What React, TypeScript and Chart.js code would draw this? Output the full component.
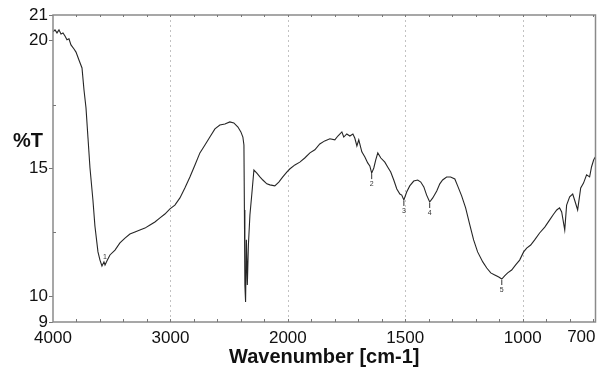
import React, { useEffect, useRef } from 'react';
import { Chart, registerables } from 'chart.js';

Chart.register(...registerables);

// Spectrum (wavenumber in cm-1, transmittance in %T)
const wavenumbers = [
  4000, 3983, 3966, 3949, 3932, 3915, 3898, 3881, 3864, 3847, 3821, 3804, 3779, 3753, 3736, 3719,
  3702, 3685, 3660, 3643, 3617, 3600, 3583, 3566, 3557, 3540, 3515, 3472, 3430, 3387, 3345, 3302,
  3260, 3217, 3174, 3132, 3089, 3047, 3004, 2962, 2919, 2877, 2834, 2791, 2749, 2706, 2664, 2621,
  2579, 2536, 2494, 2460, 2425, 2400, 2383, 2374, 2370, 2366, 2360, 2353, 2345, 2336, 2323, 2306,
  2289, 2264, 2238, 2213, 2179, 2153, 2111, 2077, 2043, 2009, 1992, 1970, 1949, 1928, 1906, 1885,
  1864, 1843, 1821, 1800, 1787, 1770, 1762, 1749, 1736, 1723, 1715, 1706, 1698, 1685, 1672, 1660,
  1651, 1643, 1634, 1626, 1617, 1604, 1587, 1575, 1562, 1549, 1536, 1523, 1515, 1506, 1494, 1481,
  1464, 1447, 1434, 1421, 1409, 1396, 1383, 1366, 1353, 1341, 1324, 1307, 1289, 1277, 1260, 1243,
  1226, 1209, 1192, 1170, 1153, 1136, 1119, 1102, 1089, 1077, 1064, 1047, 1030, 1013, 996, 983,
  966, 949, 928, 906, 885, 868, 855, 843, 834, 821, 813, 800, 787, 779, 766, 753,
  741, 728, 715, 707, 698, 691,
];
const transmittance = [
  20.34, 20.42, 20.30, 20.42, 20.26, 20.30, 20.18, 20.03, 20.07, 19.83, 19.67, 19.55, 19.24, 18.93, 18.07, 17.37,
  16.19, 15.02, 13.77, 12.75, 11.74, 11.42, 11.19, 11.35, 11.23, 11.39, 11.62, 11.81, 12.09, 12.28, 12.44, 12.52,
  12.60, 12.67, 12.79, 12.91, 13.07, 13.22, 13.42, 13.57, 13.85, 14.24, 14.67, 15.14, 15.61, 15.92, 16.23, 16.55,
  16.70, 16.74, 16.82, 16.78, 16.62, 16.43, 16.23, 15.92, 13.38, 10.45, 9.78, 12.21, 10.45, 12.01, 13.18, 14.04,
  14.94, 14.82, 14.67, 14.55, 14.40, 14.36, 14.32, 14.47, 14.67, 14.86, 14.98, 15.14, 15.25, 15.41, 15.61, 15.73,
  15.96, 16.08, 16.16, 16.12, 16.27, 16.43, 16.23, 16.35, 16.27, 16.35, 16.19, 15.88, 16.12, 15.65, 15.45, 15.22,
  15.10, 14.82, 15.02, 15.33, 15.61, 15.41, 15.25, 15.06, 14.86, 14.55, 14.20, 14.00, 13.96, 13.77, 14.08, 14.32,
  14.51, 14.55, 14.47, 14.28, 13.96, 13.69, 13.85, 14.12, 14.40, 14.55, 14.67, 14.67, 14.59, 14.32, 13.93, 13.46,
  12.83, 12.21, 11.74, 11.35, 11.11, 10.92, 10.84, 10.76, 10.68, 10.80, 10.92, 11.03, 11.23, 11.42, 11.74, 11.89,
  12.01, 12.21, 12.48, 12.71, 12.99, 13.22, 13.38, 13.46, 13.30, 12.60, 13.57, 13.89, 14.00, 13.77, 13.38, 14.24,
  14.43, 14.75, 14.67, 15.06, 15.33, 15.45,
];

const xTickWavenumbers = [4000, 3000, 2000, 1500, 1000, 700];
const xGridWavenumbers = [3000, 2000, 1500, 1000];
const yTickValues = [9, 10, 15, 20, 21];
const yMinorValues = [12.5, 17.5];
const peakWavenumbers = [3557, 1643, 1506, 1396, 1089];
const peakLabels = ['1', '2', '3', '4', '5'];
const wavenumberMax = 4000;
const wavenumberMin = 690;
const yMin = 9;
const yMax = 21;

// Instrument x-axis: 2x expanded scale below 2000 cm-1
const toU = (w: number) => (w >= 2000 ? 4000 - w : 2000 + (2000 - w) * 2);
const fromU = (u: number) => (u <= 2000 ? 4000 - u : 2000 - (u - 2000) / 2);

const FONT = "'Liberation Sans', Arial, sans-serif";

const decorPlugin = {
  id: 'decor',
  beforeDatasetsDraw(chart: any) {
    const { ctx, chartArea } = chart;
    const xs = chart.scales.x;
    ctx.save();
    ctx.strokeStyle = '#c2c2c2';
    ctx.lineWidth = 1;
    ctx.setLineDash([2, 3]);
    xGridWavenumbers.forEach((w) => {
      const px = Math.round(xs.getPixelForValue(toU(w))) + 0.5;
      ctx.beginPath();
      ctx.moveTo(px, chartArea.top);
      ctx.lineTo(px, chartArea.bottom);
      ctx.stroke();
    });
    ctx.restore();
  },
  afterDatasetsDraw(chart: any) {
    const { ctx, chartArea } = chart;
    const xs = chart.scales.x;
    const ys = chart.scales.y;
    ctx.save();
    // frame
    ctx.strokeStyle = '#8a8a8a';
    ctx.lineWidth = 1.5;
    ctx.strokeRect(chartArea.left, chartArea.top, chartArea.right - chartArea.left, chartArea.bottom - chartArea.top);
    // minor ticks on bottom / top edges
    ctx.strokeStyle = '#777';
    ctx.lineWidth = 1;
    for (let u = 200; u < toU(wavenumberMin); u += 200) {
      const px = Math.round(xs.getPixelForValue(u)) + 0.5;
      ctx.beginPath();
      ctx.moveTo(px, chartArea.bottom);
      ctx.lineTo(px, chartArea.bottom - 3);
      ctx.moveTo(px, chartArea.top);
      ctx.lineTo(px, chartArea.top + 2);
      ctx.stroke();
    }
    yMinorValues.forEach((v) => {
      const py = Math.round(ys.getPixelForValue(v)) + 0.5;
      ctx.beginPath();
      ctx.moveTo(chartArea.left, py);
      ctx.lineTo(chartArea.left + 3, py);
      ctx.stroke();
    });
    // peak markers
    ctx.fillStyle = '#333';
    ctx.strokeStyle = '#333';
    ctx.font = `7px ${FONT}`;
    ctx.textAlign = 'center';
    ctx.textBaseline = 'middle';
    peakWavenumbers.forEach((w, i) => {
      const idx = wavenumbers.indexOf(w);
      const px = xs.getPixelForValue(toU(w));
      const py = ys.getPixelForValue(transmittance[idx]);
      if (i === 0) {
        ctx.fillText(peakLabels[i], px, py - 8);
      } else {
        ctx.beginPath();
        ctx.moveTo(px, py + 1);
        ctx.lineTo(px, py + 6);
        ctx.stroke();
        ctx.fillText(peakLabels[i], px, py + 11);
      }
    });
    // "%T" label
    ctx.fillStyle = '#111';
    ctx.font = `bold 20px ${FONT}`;
    ctx.textAlign = 'left';
    ctx.fillText('%T', 13, 141);
    // last x label, right aligned to the frame
    ctx.font = `17px ${FONT}`;
    ctx.textAlign = 'right';
    ctx.fillText(String(xTickWavenumbers[xTickWavenumbers.length - 1]), chartArea.right, 337);
    ctx.restore();
  },
};

export default function App() {
  const canvasRef = useRef<HTMLCanvasElement | null>(null);

  useEffect(() => {
    if (!canvasRef.current) return;
    const points = wavenumbers.map((w, i) => ({ x: toU(w), y: transmittance[i] }));
    const chart = new Chart(canvasRef.current, {
      type: 'line',
      data: {
        datasets: [
          {
            data: points,
            borderColor: '#262626',
            borderWidth: 1.1,
            pointRadius: 0,
            tension: 0,
            fill: false,
          },
        ],
      },
      options: {
        animation: false,
        responsive: false,
        maintainAspectRatio: false,
        layout: { padding: { left: 0, top: 15, right: 1.5, bottom: 0 } },
        plugins: { legend: { display: false }, tooltip: { enabled: false } },
        scales: {
          x: {
            type: 'linear',
            min: toU(wavenumberMax),
            max: toU(wavenumberMin),
            afterBuildTicks: (scale: any) => {
              scale.ticks = xTickWavenumbers.map((w) => ({ value: toU(w) }));
            },
            afterFit: (scale: any) => {
              scale.height = 47;
            },
            grid: { display: false },
            border: { display: false },
            ticks: {
              autoSkip: false,
              maxRotation: 0,
              padding: -2,
              color: '#111',
              font: { family: FONT, size: 17 },
              callback: (value: any) => {
                const w = Math.round(fromU(Number(value)));
                return w === xTickWavenumbers[xTickWavenumbers.length - 1] ? '' : String(w);
              },
            },
            title: {
              display: true,
              text: 'Wavenumber [cm-1]',
              color: '#111',
              font: { family: FONT, size: 20, weight: 'bold' },
              padding: { top: 0, bottom: 0 },
            },
          },
          y: {
            type: 'linear',
            min: yMin,
            max: yMax,
            afterBuildTicks: (scale: any) => {
              scale.ticks = yTickValues.map((v) => ({ value: v }));
            },
            afterFit: (scale: any) => {
              scale.width = 53;
            },
            grid: { display: true, drawOnChartArea: false, drawTicks: true, tickLength: 4, color: '#777' },
            border: { display: false },
            ticks: {
              autoSkip: false,
              padding: 1,
              color: '#111',
              font: { family: FONT, size: 17 },
            },
          },
        },
      },
      plugins: [decorPlugin],
    } as any);
    return () => chart.destroy();
  }, []);

  return (
    <div style={{ position: 'fixed', left: 0, top: 0, width: 597, height: 369, background: '#fff' }}>
      <canvas ref={canvasRef} width={597} height={369} style={{ width: 597, height: 369 }} />
    </div>
  );
}
